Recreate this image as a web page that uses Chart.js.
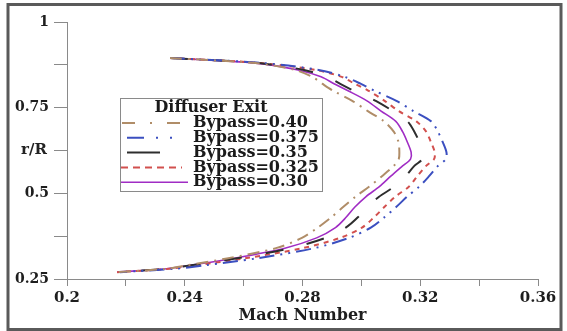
<!DOCTYPE html>
<html>
<head>
<meta charset="utf-8">
<script src="https://cdn.jsdelivr.net/npm/chart.js@4.4.1/dist/chart.umd.min.js"></script>
<style>
  html, body { margin: 0; padding: 0; background: #fff; }
  #wrap { width: 567px; height: 331px; position: relative; }
</style>
</head>
<body>
<div id="wrap"><canvas id="chart" width="567" height="331"></canvas></div>
<script>
// radial position r/R shared by every curve (top of the duct -> bottom)
const radius = [0.895, 0.88, 0.86, 0.84, 0.82, 0.80, 0.77, 0.74, 0.71, 0.68, 0.65, 0.62, 0.60,
                0.58, 0.55, 0.52, 0.49, 0.46, 0.43, 0.40, 0.37, 0.34, 0.31, 0.29, 0.28, 0.27];

// Mach number
const mach040  = [0.235, 0.264, 0.2775, 0.2833, 0.2867, 0.2903, 0.2969, 0.3022, 0.3077, 0.3110, 0.3126, 0.3129, 0.3127,
                  0.3110, 0.3070, 0.3027, 0.2980, 0.2938, 0.2898, 0.2852, 0.2798, 0.2710, 0.2543, 0.2407, 0.2339, 0.2170];
const mach0375 = [0.235, 0.267, 0.2855, 0.2943, 0.2997, 0.3043, 0.3119, 0.3177, 0.3237, 0.3260, 0.3276, 0.3289, 0.3287,
                  0.3260, 0.3230, 0.3197, 0.3155, 0.3118, 0.3078, 0.3032, 0.2958, 0.2840, 0.2643, 0.2467, 0.2369, 0.2180];
const mach035  = [0.235, 0.265, 0.2805, 0.2883, 0.2927, 0.2973, 0.3049, 0.3107, 0.3157, 0.3180, 0.3196, 0.3204, 0.3207,
                  0.3180, 0.3150, 0.3112, 0.3060, 0.3018, 0.2988, 0.2947, 0.2878, 0.2760, 0.2573, 0.2422, 0.2339, 0.2170];
const mach0325 = [0.235, 0.266, 0.2845, 0.2933, 0.2977, 0.3023, 0.3079, 0.3127, 0.3187, 0.3220, 0.3236, 0.3249, 0.3247,
                  0.3220, 0.3190, 0.3162, 0.3115, 0.3078, 0.3043, 0.3002, 0.2928, 0.2800, 0.2603, 0.2437, 0.2349, 0.2170];
const mach030  = [0.235, 0.264, 0.2785, 0.2863, 0.2907, 0.2953, 0.3019, 0.3067, 0.3117, 0.3140, 0.3156, 0.3169, 0.3167,
                  0.3140, 0.3100, 0.3062, 0.3015, 0.2978, 0.2948, 0.2912, 0.2848, 0.2740, 0.2563, 0.2417, 0.2339, 0.2170];

const seriesLabels = ['Bypass=0.40', 'Bypass=0.375', 'Bypass=0.35', 'Bypass=0.325', 'Bypass=0.30'];
const legendTitle = 'Diffuser Exit';
const xTitle = 'Mach Number';
const yTitle = 'r/R';

const SERIF = "'DejaVu Serif', 'Liberation Serif', serif";

function pts(mach) {
    return mach.map((m, i) => ({ x: m, y: radius[i] }));
}

function makeSet(label, mach, color, dash, legendDash, legendFrom, width) {
    return {
        label: label,
        data: pts(mach),
        borderColor: color,
        backgroundColor: color,
        borderWidth: width,
        borderDash: dash,
        legendDash: legendDash,
        legendFrom: legendFrom,
        showLine: true,
        pointRadius: 0,
        tension: 0.3
    };
}

// cadre gris autour de la figure
const framePlugin = {
    id: 'frame',
    afterDraw(chart) {
        const ctx = chart.ctx;
        ctx.save();
        ctx.strokeStyle = '#5a5a5a';
        ctx.lineWidth = 3;
        ctx.strokeRect(8, 4.5, 553, 325);
        ctx.restore();
    }
};

// r/R written horizontally beside the y axis
const yTitlePlugin = {
    id: 'yTitle',
    afterDraw(chart) {
        const ctx = chart.ctx;
        const y = chart.scales.y.getPixelForValue(0.625);
        ctx.save();
        ctx.font = 'bold 15px ' + SERIF;
        ctx.fillStyle = '#222';
        ctx.textAlign = 'center';
        ctx.textBaseline = 'middle';
        ctx.fillText(yTitle, 34, y);
        ctx.restore();
    }
};

// legend box inside the plot
const legendPlugin = {
    id: 'boxLegend',
    afterDatasetsDraw(chart) {
        const ctx = chart.ctx;
        const box = { x: 120.5, y: 98.5, w: 202, h: 93 };
        ctx.save();
        ctx.fillStyle = '#fff';
        ctx.fillRect(box.x, box.y, box.w, box.h);
        ctx.strokeStyle = '#8a8a8a';
        ctx.lineWidth = 1;
        ctx.strokeRect(box.x, box.y, box.w, box.h);

        ctx.fillStyle = '#1a1a1a';
        ctx.font = 'bold 16px ' + SERIF;
        ctx.textBaseline = 'middle';
        ctx.textAlign = 'center';
        ctx.fillText(legendTitle, 211, 108);

        ctx.textAlign = 'left';
        chart.data.datasets.forEach((ds, i) => {
            const y = 123 + i * 14.8;
            ctx.save();
            ctx.strokeStyle = ds.borderColor;
            ctx.lineWidth = ds.borderWidth;
            ctx.setLineDash(ds.legendDash);
            ctx.beginPath();
            ctx.moveTo(ds.legendFrom[0], y);
            ctx.lineTo(ds.legendFrom[1], y);
            ctx.stroke();
            ctx.restore();
            ctx.fillText(ds.label, 193, y);
        });
        ctx.restore();
    }
};

function fmt(v) {
    return String(parseFloat(v.toFixed(3)));
}

const ctx = document.getElementById('chart').getContext('2d');
new Chart(ctx, {
    type: 'scatter',
    data: {
        datasets: [
            makeSet(seriesLabels[0], mach040,  '#b08d68', [12, 6, 2, 6],       [13, 15, 2, 15],       [122, 182], 2),
            makeSet(seriesLabels[1], mach0375, '#3b4fc0', [15, 6, 2, 6, 2, 6], [17, 12, 2, 12, 2, 12], [127, 182], 2),
            makeSet(seriesLabels[2], mach035,  '#2e2e2e', [18, 24],            [],                     [127, 160], 2),
            makeSet(seriesLabels[3], mach0325, '#d2504e', [5, 5],              [7, 5],                 [121, 182], 2),
            makeSet(seriesLabels[4], mach030,  '#a02cc4', [],                  [],                     [121, 188], 1.6)
        ]
    },
    options: {
        responsive: false,
        animation: false,
        devicePixelRatio: 1,
        layout: { padding: { top: 22, right: 29, left: 0, bottom: 0 } },
        plugins: {
            legend: { display: false },
            tooltip: { enabled: false }
        },
        scales: {
            x: {
                type: 'linear',
                min: 0.2,
                max: 0.36,
                afterFit: (scale) => { scale.height = 52; },
                border: { color: '#8a8a8a', width: 1 },
                grid: { drawOnChartArea: false, color: '#8a8a8a', tickLength: 7 },
                ticks: {
                    stepSize: 0.02,
                    padding: 3,
                    maxRotation: 0,
                    autoSkip: false,
                    color: '#1e1e1e',
                    font: { family: SERIF, size: 15, weight: 'bold' },
                    callback: (v) => (Math.round(v * 100) % 4 === 0 ? fmt(v) : '')
                },
                title: {
                    display: true,
                    text: xTitle,
                    color: '#1e1e1e',
                    font: { family: SERIF, size: 16, weight: 'bold' },
                    padding: { top: 0, bottom: 6 }
                }
            },
            y: {
                type: 'linear',
                min: 0.25,
                max: 1,
                afterFit: (scale) => { scale.width = 67; },
                border: { color: '#8a8a8a', width: 1 },
                grid: { drawOnChartArea: false, color: '#8a8a8a', tickLength: 13 },
                ticks: {
                    stepSize: 0.125,
                    padding: 5,
                    autoSkip: false,
                    color: '#1e1e1e',
                    font: { family: SERIF, size: 14, weight: 'bold' },
                    callback: (v) => (Math.round(v * 1000) % 250 === 0 ? fmt(v) : '')
                }
            }
        }
    },
    plugins: [framePlugin, yTitlePlugin, legendPlugin]
});
</script>
</body>
</html>
